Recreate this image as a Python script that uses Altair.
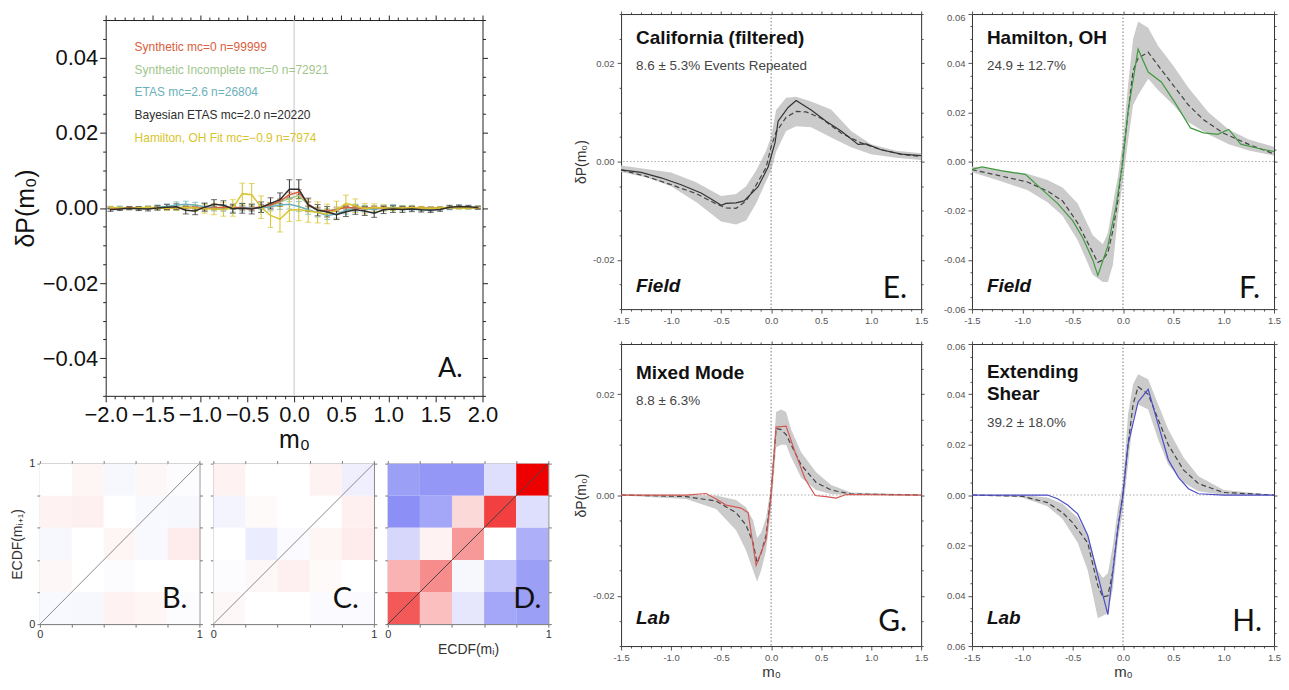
import altair as alt
import pandas as pd

FONT = "Liberation Sans"
LETTER_FONT = "Lato"

# ---------------- Panel A data ----------------
a_x = [-1.95, -1.85, -1.75, -1.65, -1.55, -1.45, -1.35, -1.25, -1.15, -1.05,
       -0.95, -0.85, -0.75, -0.65, -0.55, -0.45, -0.35, -0.25, -0.15, -0.05,
       0.05, 0.15, 0.25, 0.35, 0.45, 0.55, 0.65, 0.75, 0.85, 0.95,
       1.05, 1.15, 1.25, 1.35, 1.45, 1.55, 1.65, 1.75, 1.85, 1.95]

a_syn = [0.0000, -0.0002, 0.0001, -0.0001, 0.0000, 0.0001, -0.0001, 0.0000, 0.0002, 0.0001,
         -0.0001, 0.0000, 0.0002, 0.0001, 0.0000, -0.0002, 0.0003, 0.0008, 0.0018, 0.0035,
         0.0042, 0.0010, -0.0006, -0.0009, -0.0005, 0.0002, 0.0000, -0.0001, 0.0001, 0.0000,
         -0.0002, 0.0000, 0.0001, 0.0000, -0.0001, 0.0000, 0.0001, 0.0002, 0.0001, 0.0000]
a_syn_err = [0.0002, 0.0002, 0.0002, 0.0002, 0.0002, 0.0003, 0.0003, 0.0003, 0.0003, 0.0003,
             0.0004, 0.0004, 0.0004, 0.0004, 0.0005, 0.0005, 0.0005, 0.0006, 0.0006, 0.0007,
             0.0007, 0.0006, 0.0006, 0.0005, 0.0005, 0.0005, 0.0004, 0.0004, 0.0004, 0.0004,
             0.0003, 0.0003, 0.0003, 0.0003, 0.0003, 0.0002, 0.0002, 0.0002, 0.0002, 0.0002]

a_inc = [0.0001, 0.0000, -0.0001, 0.0000, 0.0001, 0.0000, 0.0000, 0.0001, 0.0002, 0.0001,
         0.0000, -0.0001, 0.0001, 0.0002, 0.0001, 0.0000, 0.0002, 0.0005, 0.0015, 0.0026,
         0.0033, 0.0008, -0.0004, -0.0008, -0.0003, 0.0001, 0.0000, 0.0001, 0.0000, -0.0001,
         0.0000, 0.0001, 0.0000, -0.0001, 0.0000, 0.0000, 0.0001, 0.0000, 0.0000, 0.0001]
a_inc_err = [0.0003, 0.0003, 0.0003, 0.0003, 0.0003, 0.0004, 0.0004, 0.0004, 0.0004, 0.0005,
             0.0005, 0.0005, 0.0005, 0.0006, 0.0006, 0.0006, 0.0007, 0.0007, 0.0008, 0.0009,
             0.0009, 0.0008, 0.0007, 0.0007, 0.0006, 0.0006, 0.0005, 0.0005, 0.0005, 0.0005,
             0.0004, 0.0004, 0.0004, 0.0004, 0.0003, 0.0003, 0.0003, 0.0003, 0.0003, 0.0003]

a_etas = [0.0000, 0.0001, 0.0000, -0.0001, 0.0000, 0.0002, 0.0004, 0.0008, 0.0010, 0.0007,
          0.0003, 0.0001, 0.0000, -0.0002, 0.0002, 0.0000, -0.0001, 0.0003, 0.0008, 0.0010,
          0.0004, -0.0005, -0.0012, -0.0020, -0.0016, -0.0006, 0.0000, -0.0002, -0.0004, 0.0000,
          0.0001, -0.0001, 0.0000, -0.0002, -0.0003, -0.0001, 0.0000, 0.0002, 0.0001, 0.0000]
a_etas_err = [0.0004, 0.0004, 0.0004, 0.0005, 0.0005, 0.0006, 0.0007, 0.0008, 0.0008, 0.0008,
              0.0008, 0.0009, 0.0009, 0.0009, 0.0010, 0.0010, 0.0011, 0.0011, 0.0012, 0.0013,
              0.0013, 0.0012, 0.0012, 0.0011, 0.0011, 0.0010, 0.0010, 0.0009, 0.0009, 0.0008,
              0.0008, 0.0007, 0.0007, 0.0006, 0.0006, 0.0005, 0.0005, 0.0004, 0.0004, 0.0004]

a_bayes = [-0.0005, -0.0003, -0.0001, -0.0002, -0.0003, 0.0000, 0.0002, 0.0003, -0.0006, -0.0008,
           0.0002, 0.0010, 0.0007, -0.0002, -0.0001, -0.0003, 0.0002, 0.0012, 0.0022, 0.0050,
           0.0050, 0.0008, -0.0006, -0.0010, -0.0018, -0.0010, -0.0005, -0.0008, -0.0014, -0.0005,
           -0.0003, -0.0004, -0.0003, -0.0005, -0.0006, -0.0004, 0.0002, 0.0004, 0.0003, 0.0001]
a_bayes_err = [0.0004, 0.0004, 0.0004, 0.0005, 0.0005, 0.0006, 0.0007, 0.0008, 0.0010, 0.0010,
               0.0011, 0.0012, 0.0012, 0.0012, 0.0013, 0.0013, 0.0014, 0.0015, 0.0018, 0.0025,
               0.0025, 0.0018, 0.0015, 0.0014, 0.0013, 0.0013, 0.0012, 0.0012, 0.0011, 0.0010,
               0.0009, 0.0008, 0.0007, 0.0006, 0.0006, 0.0005, 0.0005, 0.0004, 0.0004, 0.0004]

a_ham = [0.0001, 0.0000, -0.0001, 0.0000, 0.0001, 0.0000, -0.0001, 0.0000, 0.0001, 0.0000,
         -0.0002, -0.0003, -0.0004, 0.0000, 0.0038, 0.0035, 0.0002, -0.0020, -0.0030, -0.0006,
         -0.0004, -0.0008, -0.0012, -0.0016, -0.0006, 0.0012, 0.0006, -0.0002, 0.0001, 0.0000,
         -0.0001, 0.0000, 0.0001, 0.0000, -0.0001, 0.0000, 0.0001, 0.0000, 0.0000, 0.0001]
a_ham_err = [0.0003, 0.0003, 0.0003, 0.0003, 0.0004, 0.0004, 0.0005, 0.0006, 0.0007, 0.0009,
             0.0012, 0.0015, 0.0018, 0.0022, 0.0028, 0.0030, 0.0030, 0.0032, 0.0034, 0.0030,
             0.0030, 0.0030, 0.0028, 0.0026, 0.0024, 0.0022, 0.0018, 0.0014, 0.0010, 0.0008,
             0.0006, 0.0005, 0.0004, 0.0004, 0.0003, 0.0003, 0.0003, 0.0003, 0.0003, 0.0003]

a_keys = ["inc", "etas", "syn", "ham", "bayes"]
a_colors = ["#9fc68c", "#6cb0bb", "#d9603d", "#d8c42e", "#2e2e2e"]
a_values = {"syn": (a_syn, a_syn_err), "inc": (a_inc, a_inc_err), "etas": (a_etas, a_etas_err),
            "bayes": (a_bayes, a_bayes_err), "ham": (a_ham, a_ham_err)}
a_legend = ["Synthetic mc=0 n=99999", "Synthetic Incomplete mc=0 n=72921",
            "ETAS mc=2.6 n=26804", "Bayesian ETAS mc=2.0 n=20220",
            "Hamilton, OH Fit mc=\u22120.9 n=7974"]
a_legend_colors = ["#d9603d", "#9fc68c", "#6cb0bb", "#2e2e2e", "#d8c42e"]
a_vline = [0.0]

# ---------------- Heatmaps B, C, D (rows listed top to bottom) ----------------
hm_edges = [0.0, 0.2, 0.4, 0.6, 0.8, 1.0]
hm_ticks = [0.0, 0.2, 0.4, 0.6, 0.8, 1.0]
b_vals = [[0.00, 0.04, -0.05, 0.03, -0.02],
          [0.05, 0.06, 0.00, -0.04, -0.05],
          [-0.05, 0.00, 0.04, -0.04, 0.08],
          [0.03, 0.00, -0.02, 0.00, 0.00],
          [-0.04, -0.05, 0.05, 0.04, -0.02]]
c_vals = [[0.05, 0.00, 0.00, 0.05, -0.10],
          [-0.07, 0.02, 0.00, 0.00, 0.06],
          [0.00, -0.12, -0.03, 0.04, 0.08],
          [-0.02, 0.03, 0.06, 0.02, 0.00],
          [0.03, 0.00, 0.00, -0.03, -0.03]]
d_vals = [[-0.60, -0.65, -0.65, -0.20, 1.00],
          [-0.70, -0.55, 0.15, 0.75, -0.20],
          [-0.25, 0.05, 0.40, 0.00, -0.50],
          [0.30, 0.45, -0.05, -0.35, -0.60],
          [0.65, 0.25, -0.15, -0.55, -0.60]]
diag = [0.0, 1.0]

# ---------------- Panel E: California (filtered) ----------------
e_band_x = [-1.5, -1.25, -1.0, -0.75, -0.5, -0.35, -0.25, -0.15, -0.05, 0.0, 0.05, 0.15, 0.25, 0.4, 0.6, 0.8, 1.0, 1.25, 1.5]
e_band_hi = [-0.0008, -0.0015, -0.0022, -0.0042, -0.0070, -0.0066, -0.0050, -0.0018, 0.0022, 0.0050, 0.0105, 0.0130, 0.0132, 0.0122, 0.0106, 0.0062, 0.0035, 0.0022, 0.0017]
e_band_lo = [-0.0021, -0.0032, -0.0050, -0.0082, -0.0122, -0.0128, -0.0120, -0.0085, -0.0040, -0.0018, 0.0020, 0.0062, 0.0072, 0.0070, 0.0049, 0.0029, 0.0015, 0.0008, 0.0003]
e_mod_x = [-1.5, -1.25, -1.0, -0.75, -0.55, -0.45, -0.35, -0.25, -0.15, -0.05, 0.0, 0.05, 0.15, 0.25, 0.35, 0.5, 0.7, 0.9, 1.1, 1.3, 1.5]
e_mod_y = [-0.0017, -0.0030, -0.0047, -0.0065, -0.0086, -0.0094, -0.0095, -0.0080, -0.0048, -0.0012, 0.0030, 0.0060, 0.0090, 0.0102, 0.0101, 0.0088, 0.0058, 0.0038, 0.0024, 0.0015, 0.0010]
e_dat_x = [-1.5, -1.3, -1.1, -0.9, -0.7, -0.55, -0.5, -0.45, -0.35, -0.27, -0.13, -0.03, 0.04, 0.07, 0.17, 0.25, 0.4, 0.55, 0.7, 0.87, 0.95, 1.1, 1.3, 1.5]
e_dat_y = [-0.0017, -0.0022, -0.0033, -0.0047, -0.0064, -0.0082, -0.0089, -0.0085, -0.0084, -0.0080, -0.0051, -0.0011, 0.0039, 0.0082, 0.0110, 0.0124, 0.0105, 0.0082, 0.0062, 0.0035, 0.0036, 0.0024, 0.0015, 0.0012]

# ---------------- Panel F: Hamilton, OH ----------------
f_band_x = [-1.5, -1.25, -0.95, -0.75, -0.6, -0.45, -0.3, -0.2, -0.15, -0.1, -0.05, 0.0, 0.05, 0.1, 0.15, 0.25, 0.35, 0.5, 0.65, 0.85, 1.05, 1.25, 1.5]
f_band_hi = [-0.0020, -0.0032, -0.0050, -0.0075, -0.0105, -0.0170, -0.0300, -0.0336, -0.0290, -0.0170, -0.0060, 0.0084, 0.0310, 0.0497, 0.0570, 0.0544, 0.0470, 0.0390, 0.0300, 0.0200, 0.0130, 0.0090, 0.0060]
f_band_lo = [-0.0043, -0.0075, -0.0116, -0.0165, -0.0220, -0.0320, -0.0460, -0.0490, -0.0490, -0.0420, -0.0220, -0.0076, 0.0084, 0.0230, 0.0270, 0.0337, 0.0290, 0.0230, 0.0160, 0.0110, 0.0070, 0.0045, 0.0024]
f_mod_x = [-1.5, -1.25, -0.95, -0.75, -0.6, -0.45, -0.35, -0.25, -0.2, -0.15, -0.1, -0.05, 0.0, 0.05, 0.1, 0.15, 0.25, 0.35, 0.5, 0.65, 0.8, 1.0, 1.25, 1.5]
f_mod_y = [-0.0033, -0.0055, -0.0083, -0.0120, -0.0160, -0.0250, -0.0330, -0.0410, -0.0400, -0.0370, -0.0280, -0.0156, 0.0020, 0.0200, 0.0370, 0.0420, 0.0445, 0.0390, 0.0310, 0.0230, 0.0170, 0.0115, 0.0070, 0.0031]
f_dat_x = [-1.5, -1.4, -1.2, -0.97, -0.8, -0.65, -0.5, -0.4, -0.3, -0.25, -0.15, -0.07, 0.0, 0.05, 0.15, 0.25, 0.38, 0.51, 0.67, 0.8, 0.94, 1.05, 1.17, 1.37, 1.5]
f_dat_y = [-0.0032, -0.0022, -0.0038, -0.0052, -0.0115, -0.0170, -0.0240, -0.0310, -0.0400, -0.0463, -0.0343, -0.0183, 0.0004, 0.0204, 0.0457, 0.0364, 0.0324, 0.0244, 0.0137, 0.0117, 0.0111, 0.0131, 0.0071, 0.0051, 0.0041]

# ---------------- Panel G: Mixed Mode ----------------
g_band_x = [-1.5, -0.85, -0.55, -0.35, -0.25, -0.18, -0.14, -0.1, -0.05, 0.0, 0.05, 0.1, 0.15, 0.2, 0.3, 0.45, 0.6, 0.8, 1.5]
g_band_hi = [0.0001, 0.0000, -0.0001, -0.0010, -0.0025, -0.0050, -0.0085, -0.0075, -0.0045, 0.0020, 0.0165, 0.0170, 0.0165, 0.0130, 0.0085, 0.0045, 0.0020, 0.0005, 0.0001]
g_band_lo = [-0.0001, -0.0008, -0.0028, -0.0070, -0.0110, -0.0150, -0.0172, -0.0150, -0.0110, -0.0030, 0.0095, 0.0100, 0.0100, 0.0075, 0.0035, 0.0010, 0.0002, 0.0000, -0.0001]
g_mod_x = [-1.5, -0.85, -0.55, -0.35, -0.25, -0.18, -0.14, -0.1, -0.05, 0.0, 0.05, 0.1, 0.15, 0.2, 0.3, 0.45, 0.6, 0.8, 1.5]
g_mod_y = [0.0000, -0.0003, -0.0012, -0.0035, -0.0060, -0.0095, -0.0135, -0.0115, -0.0080, 0.0005, 0.0132, 0.0130, 0.0120, 0.0100, 0.0060, 0.0025, 0.0010, 0.0002, 0.0000]
g_dat_x = [-1.5, -0.85, -0.65, -0.55, -0.45, -0.3, -0.23, -0.15, -0.05, 0.0, 0.05, 0.15, 0.24, 0.34, 0.44, 0.55, 0.65, 0.75, 1.5]
g_dat_y = [0.0000, 0.0000, 0.0003, -0.0008, -0.0020, -0.0026, -0.0035, -0.0140, -0.0088, 0.0000, 0.0135, 0.0137, 0.0085, 0.0032, -0.0001, -0.0003, -0.0006, 0.0001, 0.0000]

# ---------------- Panel H: Extending Shear ----------------
h_band_x = [-1.5, -1.0, -0.75, -0.6, -0.45, -0.35, -0.25, -0.2, -0.15, -0.1, -0.05, 0.0, 0.05, 0.1, 0.15, 0.25, 0.35, 0.45, 0.6, 0.75, 1.0, 1.5]
h_band_hi = [0.0000, 0.0000, -0.0010, -0.0035, -0.0090, -0.0160, -0.0300, -0.0330, -0.0310, -0.0200, -0.0050, 0.0050, 0.0320, 0.0440, 0.0480, 0.0460, 0.0360, 0.0260, 0.0150, 0.0075, 0.0020, 0.0000]
h_band_lo = [0.0000, -0.0010, -0.0045, -0.0095, -0.0190, -0.0300, -0.0490, -0.0480, -0.0470, -0.0370, -0.0180, -0.0060, 0.0120, 0.0300, 0.0360, 0.0340, 0.0220, 0.0120, 0.0050, 0.0015, 0.0000, 0.0000]
h_mod_x = [-1.5, -1.0, -0.75, -0.6, -0.5, -0.35, -0.25, -0.2, -0.15, -0.1, -0.05, 0.0, 0.05, 0.1, 0.15, 0.25, 0.35, 0.45, 0.6, 0.75, 1.0, 1.5]
h_mod_y = [0.0000, -0.0005, -0.0030, -0.0070, -0.0110, -0.0190, -0.0360, -0.0405, -0.0400, -0.0300, -0.0130, 0.0010, 0.0200, 0.0360, 0.0430, 0.0400, 0.0300, 0.0200, 0.0100, 0.0045, 0.0010, 0.0000]
h_dat_x = [-1.5, -0.75, -0.65, -0.55, -0.45, -0.35, -0.25, -0.15, -0.05, 0.0, 0.05, 0.15, 0.25, 0.35, 0.45, 0.55, 0.65, 0.75, 1.0, 1.5]
h_dat_y = [0.0000, 0.0000, -0.0015, -0.0040, -0.0075, -0.0160, -0.0320, -0.0475, -0.0130, 0.0000, 0.0200, 0.0370, 0.0420, 0.0280, 0.0140, 0.0070, 0.0025, 0.0005, 0.0000, 0.0000]

zero = [0.0]


def cond(test, major, minor):
    return {"condition": {"test": test, "value": major}, "value": minor}


def text_layer(txt, x, y, size, color="#111", font=FONT, weight="normal", style="normal",
               align="left", baseline="alphabetic", line_height=None):
    kw = dict(font=font, fontSize=size, color=color, fontWeight=weight, fontStyle=style,
              align=align, baseline=baseline)
    if line_height is not None:
        kw["lineBreak"] = "\n"
        kw["lineHeight"] = line_height
    return alt.Chart(pd.DataFrame({"t": [txt]})).mark_text(**kw).encode(
        x=alt.value(x), y=alt.value(y), text="t:N")


# ================= Panel A =================
A_L, A_T = 66, 6             # frame offset inside the panel's view
A_FW, A_FH = 378, 377        # frame size
A_W, A_H = A_L + A_FW, A_T + A_FH
a_xs = alt.Scale(domain=[-2, 2], range=[A_L, A_W], nice=False, zero=False)
a_ys = alt.Scale(domain=[-0.05, 0.05], range=[A_H, A_T], nice=False, zero=False)
AX_MAJ = "abs(round(datum.value*10)) % 5 == 0"
AY_MAJ = "abs(round(datum.value*1000)) % 20 == 0"

rows = []
for k in a_keys:
    vals, errs = a_values[k]
    for xv, yv, ev in zip(a_x, vals, errs):
        rows.append({"x": xv, "y": yv, "lo": yv - ev, "hi": yv + ev, "s": k})
dfA = pd.DataFrame(rows)
a_color = alt.Color("s:N", scale=alt.Scale(domain=a_keys, range=a_colors), legend=None)

axA_main = alt.Chart(pd.DataFrame({"x": [0.0], "y": [0.0]})).mark_point(opacity=0).encode(
    x=alt.X("x:Q", scale=a_xs, axis=alt.Axis(
        orient="bottom", tickCount=40, labelExpr=f"{AX_MAJ} ? format(datum.value, '.1f') : ''",
        tickSize=cond(AX_MAJ, 6, 3), labelFontSize=22, labelFont=FONT, labelColor="#111",
        labelPadding=3, labelOverlap=False, labelFlush=False, domainColor="#222",
        tickColor="#222", title="m\u2080", titleFont=FONT, titleFontSize=25,
        titleFontWeight="normal", titleColor="#111", titlePadding=2, grid=False)),
    y=alt.Y("y:Q", scale=a_ys, axis=alt.Axis(
        orient="left", offset=-A_L, tickCount=20,
        labelExpr=f"{AY_MAJ} ? format(datum.value, '.2f') : ''",
        tickSize=cond(AY_MAJ, 6, 3), labelFontSize=22, labelFont=FONT, labelColor="#111",
        labelPadding=2, labelOverlap=False, labelFlush=False, domainColor="#222",
        tickColor="#222", title="\u03b4P(m\u2080)", titleFont=FONT, titleFontSize=25,
        titleFontWeight="normal", titleColor="#111", titlePadding=4, grid=False)),
)
axA_sec = alt.Chart(pd.DataFrame({"x": [0.0], "y": [0.0]})).mark_point(opacity=0).encode(
    x=alt.X("x:Q", scale=a_xs, axis=alt.Axis(
        orient="top", offset=-A_T, tickCount=40, labels=False, tickSize=cond(AX_MAJ, 5, 3),
        domainColor="#222", tickColor="#222", title=None, grid=False)),
    y=alt.Y("y:Q", scale=a_ys, axis=alt.Axis(
        orient="right", tickCount=20, labels=False, tickSize=cond(AY_MAJ, 5, 3),
        domainColor="#222", tickColor="#222", title=None, grid=False)),
)
a_vrule = alt.Chart(pd.DataFrame({"x": a_vline, "y": [-0.05], "y2": [0.05]})).mark_rule(
    color="#c4c4c4", strokeWidth=1).encode(
    x=alt.X("x:Q", scale=a_xs, axis=None), y=alt.Y("y:Q", scale=a_ys, axis=None), y2="y2:Q")
a_err = alt.Chart(dfA).mark_errorbar(ticks={"size": 6, "thickness": 1}, thickness=1).encode(
    x=alt.X("x:Q", scale=a_xs, axis=None), y=alt.Y("lo:Q", scale=a_ys, axis=None),
    y2="hi:Q", color=a_color)
a_line = alt.Chart(dfA).mark_line(strokeWidth=1.5).encode(
    x=alt.X("x:Q", scale=a_xs, axis=None), y=alt.Y("y:Q", scale=a_ys, axis=None),
    color=a_color)
a_texts = [text_layer(t, A_L + 29, A_T + 27 + 22.8 * i, 12, color=c, baseline="middle")
           for i, (t, c) in enumerate(zip(a_legend, a_legend_colors))]
a_letter = text_layer("A.", A_L + 358, A_T + 358, 27, font=LETTER_FONT, align="right")

panelA = alt.layer(axA_main, a_vrule, a_err, a_line, *a_texts, a_letter, axA_sec).resolve_axis(
    x="independent", y="independent").properties(width=A_W, height=A_H)


# ================= Heatmaps =================
def heat_panel(vals, letter, w, show_ylab, xtitle, diag_color, letter_x):
    recs = []
    for r_top, row in enumerate(vals):
        r = 4 - r_top
        for c, v in enumerate(row):
            recs.append({"x0": hm_edges[c], "x1": hm_edges[c + 1],
                         "y0": hm_edges[r], "y1": hm_edges[r + 1], "v": v})
    df = pd.DataFrame(recs)
    xs = alt.Scale(domain=[0, 1], nice=False, zero=False)
    ys = alt.Scale(domain=[0, 1], nice=False, zero=False)
    lab = "(datum.value == 0 || datum.value == 1) ? format(datum.value, '.0f') : ''"
    xaxis_kw = dict(orient="bottom", values=hm_ticks, labelExpr=lab, tickSize=3,
                    labelFontSize=11, labelFont=FONT, labelColor="#333", labelPadding=1,
                    labelOverlap=False, labelFlush=False, domainColor="#777", tickColor="#777",
                    grid=False, titleFont=FONT, titleFontSize=14, titleFontWeight="normal",
                    titleColor="#333", titlePadding=3)
    xaxis_kw["title"] = xtitle if xtitle else None
    yaxis_kw = dict(orient="left", values=hm_ticks, tickSize=3, domainColor="#777",
                    tickColor="#777", grid=False, labelOverlap=False, labelFlush=False)
    if show_ylab:
        yaxis_kw.update(labelExpr=lab, labelFontSize=11, labelFont=FONT, labelColor="#333",
                        labelPadding=2, title="ECDF(m\u1d62\u208a\u2081)", titleFont=FONT,
                        titleFontSize=14, titleFontWeight="normal", titleColor="#333",
                        titlePadding=4)
    else:
        yaxis_kw.update(labels=False, title=None)
    rect = alt.Chart(df).mark_rect().encode(
        x=alt.X("x0:Q", scale=xs, axis=alt.Axis(**xaxis_kw)),
        x2="x1:Q",
        y=alt.Y("y0:Q", scale=ys, axis=alt.Axis(**yaxis_kw)),
        y2="y1:Q",
        color=alt.Color("v:Q", scale=alt.Scale(type="linear", domain=[-1, 0, 1],
                                               range=["#5a5ff0", "#ffffff", "#ee0000"],
                                               interpolate="rgb"),
                        legend=None))
    dl = alt.Chart(pd.DataFrame({"x": diag, "y": diag})).mark_line(
        color=diag_color, strokeWidth=1).encode(
        x=alt.X("x:Q", scale=xs, axis=None), y=alt.Y("y:Q", scale=ys, axis=None))
    sec = alt.Chart(pd.DataFrame({"x": [0.5], "y": [0.5]})).mark_point(opacity=0).encode(
        x=alt.X("x:Q", scale=xs, axis=alt.Axis(orient="top", values=hm_ticks, labels=False,
                                               tickSize=3, domainColor="#777",
                                               tickColor="#777", title=None, grid=False)),
        y=alt.Y("y:Q", scale=ys, axis=alt.Axis(orient="right", values=hm_ticks, labels=False,
                                               tickSize=3, domainColor="#777",
                                               tickColor="#777", title=None, grid=False)))
    let = text_layer(letter, letter_x, 145, 29, font=LETTER_FONT, align="right")
    return alt.layer(rect, dl, let, sec).resolve_axis(
        x="independent", y="independent").properties(width=w, height=161)


panelB = heat_panel(b_vals, "B.", 160, True, None, "#8a8a8a", 148)
panelC = heat_panel(c_vals, "C.", 161, False, None, "#8a8a8a", 146)
panelD = heat_panel(d_vals, "D.", 161, False, "ECDF(m\u1d62)", "#444444", 154)


# ================= Curve panels E-H =================
CX_MAJ = "abs(round(datum.value*10)) % 5 == 0"
CY_MAJ = "abs(round(datum.value*1000)) % 20 == 0"
TOP_LAB = "datum.value > 0.059"


def curve_panel(bx, blo, bhi, mx, my, dx, dy, color, ydom, ytc, w, h, title, title_y,
                title_lh, sub, sub_y, kind, kind_y, letter, letter_x, letter_y, ytitle,
                xtitle, abs_labels):
    xs = alt.Scale(domain=[-1.5, 1.5], nice=False, zero=False)
    ys = alt.Scale(domain=ydom, nice=False, zero=False)
    if abs_labels:
        ylab = f"{CY_MAJ} ? format(abs(datum.value), '.2f') : ''"
    else:
        ylab = f"{CY_MAJ} ? replace(format(datum.value, '.2f'), '\u2212', '-') : ''"
    xlab = f"{CX_MAJ} ? replace(format(datum.value, '.1f'), '\u2212', '-') : ''"
    xax = dict(orient="bottom", tickCount=30, labelExpr=xlab, tickSize=cond(CX_MAJ, 4, 2),
               labelFontSize=9.5, labelFont=FONT, labelColor="#555", labelPadding=2,
               labelOverlap=False, labelFlush=False, domainColor="#333", tickColor="#555",
               grid=False, titleFont=FONT, titleFontSize=15, titleFontWeight="normal",
               titleColor="#333", titlePadding=3)
    xax["title"] = xtitle if xtitle else None
    yax = dict(orient="left", tickCount=ytc, labelExpr=ylab, tickSize=cond(CY_MAJ, 4, 2),
               labelFontSize=9.5, labelFont=FONT, labelColor="#555", labelPadding=3,
               labelOffset=cond(TOP_LAB, 3, 0),
               labelOverlap=False, labelFlush=False, domainColor="#333", tickColor="#555",
               grid=False, titleFont=FONT, titleFontSize=14, titleFontWeight="normal",
               titleColor="#333", titlePadding=4)
    yax["title"] = ytitle if ytitle else None
    band = alt.Chart(pd.DataFrame({"x": bx, "lo": blo, "hi": bhi})).mark_area(
        color="#cbcbcb").encode(
        x=alt.X("x:Q", scale=xs, axis=alt.Axis(**xax)),
        y=alt.Y("lo:Q", scale=ys, axis=alt.Axis(**yax)), y2="hi:Q")
    vz = alt.Chart(pd.DataFrame({"x": zero})).mark_rule(
        color="#777", strokeDash=[1.5, 2], strokeWidth=1).encode(
        x=alt.X("x:Q", scale=xs, axis=None))
    hz = alt.Chart(pd.DataFrame({"y": zero})).mark_rule(
        color="#aaa", strokeDash=[1.5, 2], strokeWidth=1).encode(
        y=alt.Y("y:Q", scale=ys, axis=None))
    mod = alt.Chart(pd.DataFrame({"x": mx, "y": my})).mark_line(
        color="#444", strokeDash=[5, 3], strokeWidth=1.2).encode(
        x=alt.X("x:Q", scale=xs, axis=None), y=alt.Y("y:Q", scale=ys, axis=None))
    dat = alt.Chart(pd.DataFrame({"x": dx, "y": dy})).mark_line(
        color=color, strokeWidth=1.2).encode(
        x=alt.X("x:Q", scale=xs, axis=None), y=alt.Y("y:Q", scale=ys, axis=None))
    sec = alt.Chart(pd.DataFrame({"x": [0.0], "y": [0.0]})).mark_point(opacity=0).encode(
        x=alt.X("x:Q", scale=xs, axis=alt.Axis(orient="top", tickCount=30, labels=False,
                                               tickSize=cond(CX_MAJ, 3, 2), domainColor="#333",
                                               tickColor="#555", title=None, grid=False)),
        y=alt.Y("y:Q", scale=ys, axis=alt.Axis(orient="right", tickCount=ytc, labels=False,
                                               tickSize=cond(CY_MAJ, 3, 2), domainColor="#333",
                                               tickColor="#555", title=None, grid=False)))
    t1 = text_layer(title, 15, title_y, 19, color="#111", weight="bold", line_height=title_lh)
    t2 = text_layer(sub, 15, sub_y, 13.5, color="#444")
    t3 = text_layer(kind, 15, kind_y, 19, color="#111", weight="bold", style="italic")
    t4 = text_layer(letter, letter_x, letter_y, 30, font=LETTER_FONT, align="right")
    return alt.layer(band, vz, hz, mod, dat, t1, t2, t3, t4, sec).resolve_axis(
        x="independent", y="independent").properties(width=w, height=h)


panelE = curve_panel(e_band_x, e_band_lo, e_band_hi, e_mod_x, e_mod_y, e_dat_x, e_dat_y,
                     "#333333", [-0.03, 0.03], 12, 301, 296, "California (filtered)", 30, None,
                     "8.6 \u00b1 5.3% Events Repeated", 56, "Field", 279, "E.", 287, 285,
                     "\u03b4P(m\u2080)", None, False)
panelF = curve_panel(f_band_x, f_band_lo, f_band_hi, f_mod_x, f_mod_y, f_dat_x, f_dat_y,
                     "#3f9a3f", [-0.06, 0.06], 24, 303, 296, "Hamilton, OH", 30, None,
                     "24.9 \u00b1 12.7%", 56, "Field", 279, "F.", 289, 285, None, None, False)
panelG = curve_panel(g_band_x, g_band_lo, g_band_hi, g_mod_x, g_mod_y, g_dat_x, g_dat_y,
                     "#d55a55", [-0.03, 0.03], 12, 301, 303, "Mixed Mode", 35, None,
                     "8.8 \u00b1 6.3%", 61, "Lab", 281, "G.", 287, 288,
                     "\u03b4P(m\u2080)", "m\u2080", False)
panelH = curve_panel(h_band_x, h_band_lo, h_band_hi, h_mod_x, h_mod_y, h_dat_x, h_dat_y,
                     "#4c4cc8", [-0.06, 0.06], 24, 303, 303, "Extending\nShear", 34, 22,
                     "39.2 \u00b1 18.0%", 83, "Lab", 281, "H.", 291, 288, None, "m\u2080", True)

bcd = alt.hconcat(panelB, panelC, panelD, spacing=14, bounds="flush").resolve_scale(
    color="independent")
left = alt.vconcat(panelA, bcd, spacing=5)
right = alt.vconcat(alt.hconcat(panelE, panelF, spacing=51, bounds="flush"),
                    alt.hconcat(panelG, panelH, spacing=51, bounds="flush"),
                    spacing=14)

chart = alt.hconcat(left, right, spacing=22).properties(
    padding={"left": 2, "top": 0, "right": 0, "bottom": 0}
).configure(font=FONT).configure_view(stroke=None, strokeWidth=0)

chart.save("out.html", embed_options={"renderer": "svg", "actions": False})
